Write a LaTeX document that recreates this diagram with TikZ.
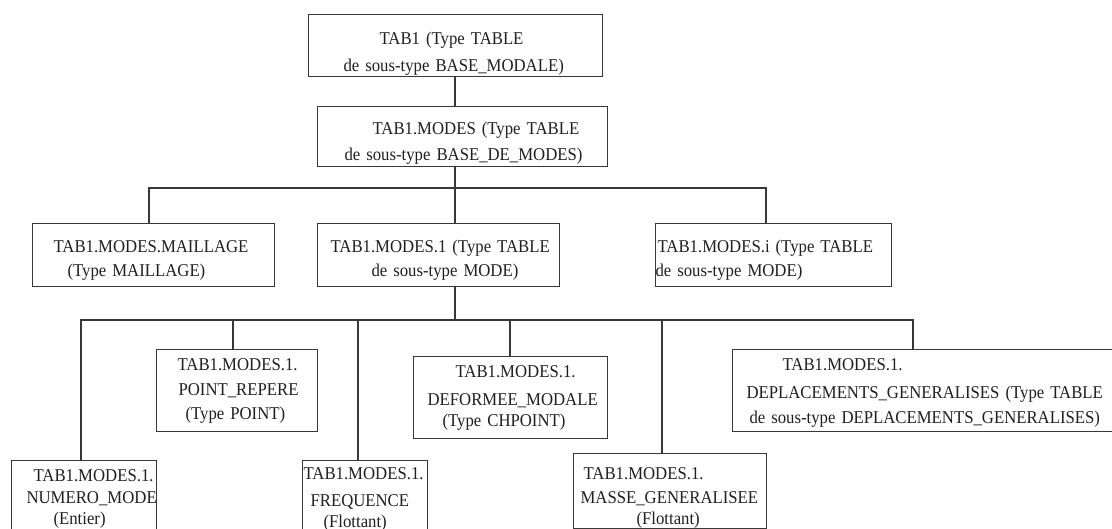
\documentclass[tikz,border=0pt]{standalone}
\usepackage{fontspec}
\setmainfont{Liberation Serif}[FakeStretch=0.93]
\newcommand\boxline[2]{\hspace*{#1pt}\makebox[0pt][l]{#2}}
\tikzset{
  bx/.style={draw=black!78, line width=1.1pt, inner sep=0pt, anchor=north west,
    align=left, font=\fontsize{18}{24}\selectfont, text=black!88},
  wire/.style={draw=black!78, line width=1.1pt}
}
\begin{document}
\begin{tikzpicture}[x=1pt,y=-1pt]
\useasboundingbox (0,0) rectangle (1112,529);
\clip (0,0) rectangle (1112,529);
% level 0-1
\node[bx, text width=294pt, text height=30pt, text depth=32pt] (b1) at (308,14)
  {\boxline{71}{TAB1 (Type TABLE}\\[3pt]\boxline{35}{de sous-type BASE\_MODALE)}};
\node[bx, text width=290pt, text height=28pt, text depth=32pt] (b2) at (317,106)
  {\boxline{55}{TAB1.MODES (Type TABLE}\\[2pt]\boxline{27}{de sous-type BASE\_DE\_MODES)}};
% level 2
\node[bx, text width=242pt, text height=29pt, text depth=34pt] (maill) at (32,223)
  {\boxline{21}{TAB1.MODES.MAILLAGE}\\\boxline{35}{(Type MAILLAGE)}};
\node[bx, text width=242pt, text height=29pt, text depth=34pt] (mod1) at (317,223)
  {\boxline{13}{TAB1.MODES.1 (Type TABLE}\\\boxline{54}{de sous-type MODE)}};
\node[bx, text width=236pt, text height=29pt, text depth=34pt] (modi) at (655,223)
  {\boxline{2}{TAB1.MODES.i (Type TABLE}\\\boxline{0}{de sous-type MODE)}};
% level 3
\node[bx, text width=145pt, text height=21pt, text depth=59pt] (num) at (11,460)
  {\boxline{22}{TAB1.MODES.1.}\\[-2pt]\boxline{15}{NUMERO\_MODE}\\[-3pt]\boxline{42}{(Entier)}};
\node[bx, text width=161pt, text height=21pt, text depth=61pt] (pt) at (156,349)
  {\boxline{21}{TAB1.MODES.1.}\\[1pt]\boxline{22}{POINT\_REPERE}\\\boxline{29}{(Type POINT)}};
\node[bx, text width=125pt, text height=19pt, text depth=61pt] (freq) at (302,460)
  {\boxline{1}{TAB1.MODES.1.}\\[3pt]\boxline{8}{FREQUENCE}\\[-3pt]\boxline{21}{(Flottant)}};
\node[bx, text width=194pt, text height=21pt, text depth=61pt] (def) at (413,356)
  {\boxline{42}{TAB1.MODES.1.}\\[4pt]\boxline{14}{DEFORMEE\_MODALE}\\[-3pt]\boxline{29}{(Type CHPOINT)}};
\node[bx, text width=193pt, text height=26pt, text depth=49pt] (masse) at (573,453)
  {\boxline{10}{TAB1.MODES.1.}\\\boxline{7}{MASSE\_GENERALISEE}\\[-3pt]\boxline{63}{(Flottant)}};
\node[bx, text width=386pt, text height=21pt, text depth=61pt] (depl) at (732,349)
  {\boxline{50}{TAB1.MODES.1.}\\[4pt]\boxline{14}{DEPLACEMENTS\_GENERALISES (Type TABLE}\\[1pt]\boxline{17}{de sous-type DEPLACEMENTS\_GENERALISES)}};
% junctions and drop points
\coordinate (j1) at (455,188);
\coordinate (j2) at (455,320);
\coordinate (dmaill) at ([xshift=117pt]maill.north west);
\coordinate (dmodi) at ([xshift=111pt]modi.north west);
\coordinate (dnum) at ([xshift=70pt]num.north west);
\coordinate (dpt) at ([xshift=77pt]pt.north west);
\coordinate (dfreq) at ([xshift=56pt]freq.north west);
\coordinate (ddef) at ([xshift=97pt]def.north west);
\coordinate (dmasse) at ([xshift=89pt]masse.north west);
\coordinate (ddepl) at ([xshift=181pt]depl.north west);
% connectors
\draw[wire] (b1.south -| j1) -- (b2.north -| j1);
\draw[wire] (b2.south -| j1) -- (j1);
\draw[wire] (dmaill) |- (j1) -| (dmodi);
\draw[wire] (j1) -- (mod1.north -| j1);
\draw[wire] (mod1.south -| j2) -- (j2);
\draw[wire] (dnum) |- (j2) -| (ddepl);
\draw[wire] (dpt) -- (dpt |- j2);
\draw[wire] (dfreq) -- (dfreq |- j2);
\draw[wire] (ddef) -- (ddef |- j2);
\draw[wire] (dmasse) -- (dmasse |- j2);
\end{tikzpicture}
\end{document}
